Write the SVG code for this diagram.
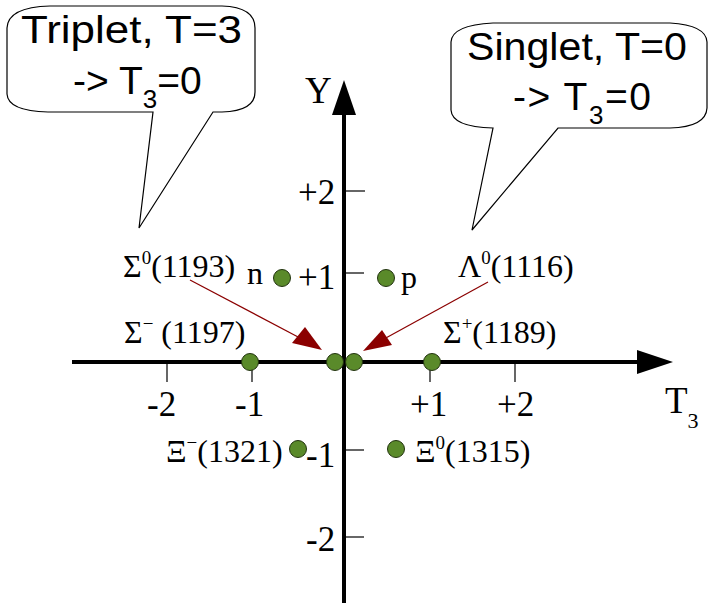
<svg xmlns="http://www.w3.org/2000/svg" width="708" height="603" viewBox="0 0 708 603">
<style>
.ser{font-family:"Liberation Serif","Times New Roman",serif;fill:#000;}
.lab{font-size:32px;}
.num{font-size:35px;}
.sans{font-family:"Liberation Sans",Arial,sans-serif;font-size:39px;fill:#000;}
.bub{fill:#fff;stroke:#000;stroke-width:1.2;}
.axis{stroke:#000;stroke-width:4;fill:none;}
.tick{stroke:#000;stroke-width:1.2;}
.dot{fill:#5a8a2a;stroke:#22330f;stroke-width:1;}
.red{stroke:#8b0000;stroke-width:1.2;fill:none;}
</style>
<rect width="708" height="603" fill="#fff"/>

<g id="callout-triplet">
<path class="bub" d="M50,6 L222,6 Q255,7 255,28 L255,92 Q255,111 222,112 L213,112 L139,228 L153,112 L48,112 Q8,111 7,94 L7,28 Q8,7 50,6 Z"/>
<text class="sans" x="21" y="43" textLength="221" lengthAdjust="spacingAndGlyphs">Triplet, T=3</text>
<text class="sans" x="73" y="94">-&gt; T<tspan font-size="26" dy="14">3</tspan><tspan dy="-14">=0</tspan></text>
</g>

<g id="callout-singlet">
<path class="bub" d="M493,23 L670,23 Q706,25 707,42 L707,108 Q706,127 670,128 L558,128 L472,230 L493,128 Q452,127 451,110 L451,42 Q452,25 493,23 Z"/>
<text class="sans" x="467" y="60" textLength="220" lengthAdjust="spacingAndGlyphs">Singlet, T=0</text>
<text class="sans" x="513" y="110" textLength="138" lengthAdjust="spacing">-&gt; T<tspan font-size="26" dy="14">3</tspan><tspan dy="-14">=0</tspan></text>
</g>

<g id="axes">
<line class="axis" x1="72" y1="362" x2="640" y2="362"/>
<polygon points="673,362 637,350 637,374" fill="#000"/>
<line class="axis" x1="344" y1="603" x2="344" y2="112"/>
<polygon points="344,80 332,115 356,115" fill="#000"/>
<line class="tick" x1="167" y1="362" x2="167" y2="382"/>
<line class="tick" x1="252" y1="362" x2="252" y2="382"/>
<line class="tick" x1="430" y1="362" x2="430" y2="382"/>
<line class="tick" x1="515" y1="362" x2="515" y2="382"/>
<line class="tick" x1="344" y1="191" x2="365" y2="191"/>
<line class="tick" x1="344" y1="273" x2="364" y2="273"/>
<line class="tick" x1="344" y1="450" x2="364" y2="450"/>
<line class="tick" x1="344" y1="537" x2="364" y2="537"/>
<text class="ser" x="305" y="103" font-size="37">Y</text>
<text class="ser" x="665" y="413" font-size="37">T<tspan font-size="22" dy="15">3</tspan></text>
<text class="ser num" x="298" y="204">+2</text>
<text class="ser num" x="298" y="289">+1</text>
<text class="ser num" x="306" y="467">-1</text>
<text class="ser num" x="306" y="551">-2</text>
<text class="ser num" x="147" y="416">-2</text>
<text class="ser num" x="235" y="416">-1</text>
<text class="ser num" x="410" y="416">+1</text>
<text class="ser num" x="497" y="416">+2</text>
</g>

<g id="connectors">
<line class="red" x1="190" y1="280" x2="300" y2="338"/>
<polygon points="322,350 292,343 305,327" fill="#8b0000"/>
<line class="red" x1="488" y1="282" x2="384" y2="339"/>
<polygon points="363,351 382,330 392,345" fill="#8b0000"/>
</g>

<g id="node-n"><circle class="dot" cx="282" cy="278" r="8.5"/><text class="ser lab" x="247" y="284">n</text></g>
<g id="node-p"><circle class="dot" cx="386" cy="278" r="8.5"/><text class="ser lab" x="401" y="288">p</text></g>
<g id="node-sigma-minus"><circle class="dot" cx="250" cy="362" r="8.5"/><text class="ser lab" x="124" y="343">Σ<tspan font-size="19" dy="-13">−</tspan><tspan dy="13"> (1197)</tspan></text></g>
<g id="node-sigma0"><circle class="dot" cx="335" cy="362" r="8.5"/><text class="ser lab" x="123" y="277">Σ<tspan font-size="19" dy="-13">0</tspan><tspan dy="13">(1193)</tspan></text></g>
<g id="node-lambda0"><circle class="dot" cx="354" cy="362" r="8.5"/><text class="ser lab" x="458" y="277">Λ<tspan font-size="19" dy="-13">0</tspan><tspan dy="13">(1116)</tspan></text></g>
<g id="node-sigma-plus"><circle class="dot" cx="432" cy="362" r="8.5"/><text class="ser lab" x="443" y="343">Σ<tspan font-size="19" dy="-13">+</tspan><tspan dy="13">(1189)</tspan></text></g>
<g id="node-xi-minus"><circle class="dot" cx="298" cy="449" r="8.5"/><text class="ser lab" x="166" y="462">Ξ<tspan font-size="19" dy="-13">−</tspan><tspan dy="13">(1321)</tspan></text></g>
<g id="node-xi0"><circle class="dot" cx="396" cy="449" r="8.5"/><text class="ser lab" x="415" y="462">Ξ<tspan font-size="19" dy="-13">0</tspan><tspan dy="13">(1315)</tspan></text></g>
</svg>
